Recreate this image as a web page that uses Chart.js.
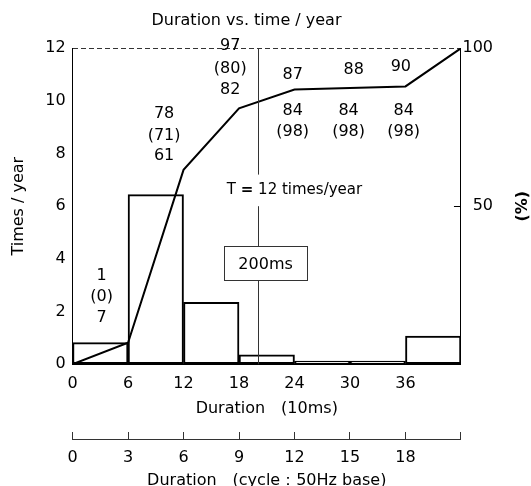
<!DOCTYPE html>
<html lang="en">

<head>
    <meta charset="UTF-8">
    <title>Duration vs. time / year</title>
    <script src="https://cdn.jsdelivr.net/npm/chart.js"></script>
    <style>
        body { margin: 0; background: #fff; }
    </style>
</head>

<body>
    <canvas id="durChart" width="531" height="486"></canvas>
    <script>
        // histogram bins (10ms), centre of each 6-wide bin
        const binMid = [3, 9, 15, 21, 27, 33, 39];
        const timesPerYear = [0.82, 6.44, 2.35, 0.36, 0.12, 0.12, 1.07];
        // cumulative curve (%)
        const cumX = [0, 6, 12, 18, 24, 30, 36, 42];
        const cumPct = [0, 6.8, 61.5, 81, 86.9, 87.4, 87.9, 100];
        // tick labels
        const xTicks = [0, 6, 12, 18, 24, 30, 36];
        const cycleTicks = [0, 3, 6, 9, 12, 15, 18];
        const yTicks = [0, 2, 4, 6, 8, 10, 12];
        const pctTicks = [50, 100];
        // numbers written in the plot
        const noteText = ['1', '(0)', '7', '78', '(71)', '61', '97', '(80)', '82',
            '87', '84', '(98)', '88', '84', '(98)', '90', '84', '(98)'];

        const FONT = '"DejaVu Sans", sans-serif';
        Chart.defaults.font.family = FONT;
        Chart.defaults.font.size = 16;
        Chart.defaults.color = '#000';

        // where the notes go, in data units (x: 10ms, y: times/year)
        const noteAt = [[3.15, 3.37], [3.15, 2.54], [3.15, 1.75],
            [9.9, 9.52], [9.9, 8.69], [9.9, 7.93],
            [17.05, 12.08], [17.05, 11.23], [17.05, 10.43],
            [23.8, 11.0], [23.8, 9.64], [23.8, 8.84],
            [30.4, 11.19], [29.85, 9.64], [29.85, 8.84],
            [35.5, 11.29], [35.8, 9.64], [35.8, 8.84]];

        const notes = {
            id: 'notes',
            afterDatasetsDraw(chart) {
                const { ctx, chartArea, scales: { x, y } } = chart;
                ctx.save();
                ctx.fillStyle = '#000';
                ctx.textAlign = 'center';
                ctx.textBaseline = 'middle';
                ctx.font = '16px ' + FONT;
                noteText.forEach((t, i) => {
                    ctx.fillText(t, x.getPixelForValue(noteAt[i][0]), y.getPixelForValue(noteAt[i][1]));
                });

                // 200ms marker line
                const lx = Math.round(x.getPixelForValue(20)) + 0.5;
                ctx.strokeStyle = '#333';
                ctx.lineWidth = 1;
                ctx.beginPath();
                ctx.moveTo(lx, chartArea.top);
                ctx.lineTo(lx, y.getPixelForValue(7.2));
                ctx.moveTo(lx, y.getPixelForValue(6.0));
                ctx.lineTo(lx, chartArea.bottom);
                ctx.stroke();

                // box
                const bx1 = x.getPixelForValue(16.4), bx2 = x.getPixelForValue(25.35);
                const by1 = y.getPixelForValue(4.47), by2 = y.getPixelForValue(3.17);
                ctx.fillStyle = '#fff';
                ctx.fillRect(bx1, by1, bx2 - bx1, by2 - by1);
                ctx.strokeRect(Math.round(bx1) + 0.5, Math.round(by1) + 0.5, Math.round(bx2 - bx1), Math.round(by2 - by1));
                ctx.fillStyle = '#000';
                ctx.fillText('200ms', (bx1 + bx2) / 2, (by1 + by2) / 2 + 1);

                // T = 12 times/year
                const p1 = 'T ', p3 = ' 12 times/year';
                ctx.font = 'bold 15px ' + FONT;
                const w2 = ctx.measureText('=').width;
                ctx.font = '15px ' + FONT;
                const w1 = ctx.measureText(p1).width, w3 = ctx.measureText(p3).width;
                const tx = x.getPixelForValue(24.0) - (w1 + w2 + w3) / 2;
                const ty = y.getPixelForValue(6.6);
                ctx.textAlign = 'left';
                ctx.fillText(p1, tx, ty);
                ctx.font = 'bold 15px ' + FONT;
                ctx.fillText('=', tx + w1, ty);
                ctx.font = '15px ' + FONT;
                ctx.fillText(p3, tx + w1 + w2, ty);

                // (%) on the right
                ctx.save();
                ctx.translate(chart.width - 8, (chartArea.top + chartArea.bottom) / 2);
                ctx.rotate(-Math.PI / 2);
                ctx.font = 'bold 16px ' + FONT;
                ctx.textAlign = 'center';
                ctx.fillText('(%)', 0, 0);
                ctx.restore();
                ctx.restore();
            }
        };

        const config = {
            type: 'bar',
            data: {
                datasets: [{
                    type: 'line',
                    data: cumX.map((v, i) => ({ x: v, y: cumPct[i] })),
                    yAxisID: 'y2',
                    borderColor: '#000',
                    borderWidth: 2,
                    pointRadius: 0,
                    tension: 0,
                    order: 0
                }, {
                    data: binMid.map((v, i) => ({ x: v, y: timesPerYear[i] })),
                    backgroundColor: '#fff',
                    borderColor: '#000',
                    borderWidth: 2,
                    borderSkipped: false,
                    barPercentage: 1,
                    categoryPercentage: 1,
                    order: 1
                }]
            },
            options: {
                responsive: false,
                animation: false,
                layout: { padding: { left: 0, right: 38, top: 0, bottom: 0 } },
                plugins: {
                    legend: { display: false },
                    tooltip: { enabled: false },
                    title: {
                        display: true,
                        text: 'Duration vs. time / year',
                        font: { size: 16, weight: 'normal' },
                        padding: { top: 11, bottom: 18 }
                    }
                },
                scales: {
                    x: {
                        type: 'linear',
                        position: 'bottom',
                        weight: 0,
                        min: 0, max: 42,
                        offset: false,
                        grid: { display: false, drawTicks: false, offset: false },
                        border: { color: '#000', width: 1 },
                        ticks: {
                            stepSize: 6, padding: 10,
                            callback: v => xTicks.includes(v) ? v : ''
                        },
                        title: {
                            display: true,
                            text: 'Duration\u3000(10ms)',
                            padding: { top: -4, bottom: 20.4 }
                        }
                    },
                    x2: {
                        type: 'linear',
                        position: 'bottom',
                        weight: 1,
                        min: 0, max: 21,
                        offset: false,
                        grid: { display: true, drawOnChartArea: false, offset: false, tickLength: -7, color: '#333' },
                        border: { color: '#333', width: 1 },
                        ticks: {
                            stepSize: 3, padding: 16,
                            callback: v => cycleTicks.includes(v) ? v : ''
                        },
                        title: {
                            display: true,
                            text: 'Duration\u3000(cycle\uFF1A50Hz base)',
                            padding: { top: -12.4, bottom: -4 }
                        }
                    },
                    y: {
                        position: 'left',
                        min: 0, max: 12,
                        // only the 12 line is drawn, dashed, as the top frame
                        grid: {
                            display: true, drawTicks: false, lineWidth: 1,
                            color: c => (c.tick && c.tick.value === 12) ? '#333' : 'rgba(0,0,0,0)'
                        },
                        border: { color: '#000', width: 1, dash: [5, 3] },
                        ticks: {
                            stepSize: 2, padding: 7,
                            callback: v => yTicks.includes(v) ? v : ''
                        },
                        title: {
                            display: true,
                            text: 'Times / year',
                            padding: { top: 9, bottom: 10 }
                        }
                    },
                    y2: {
                        position: 'right',
                        min: 0, max: 100,
                        grid: {
                            display: true, drawOnChartArea: false, tickLength: -7,
                            color: c => (c.tick && c.tick.value === 50) ? '#000' : 'rgba(0,0,0,0)'
                        },
                        border: { color: '#000', width: 1 },
                        ticks: {
                            stepSize: 50, padding: 4.25, crossAlign: 'far',
                            callback: v => pctTicks.includes(v) ? v : ''
                        }
                    }
                }
            },
            plugins: [notes]
        };

        const ctx = document.querySelector('#durChart').getContext('2d');
        const durChart = new Chart(ctx, config);
    </script>
</body>

</html>
